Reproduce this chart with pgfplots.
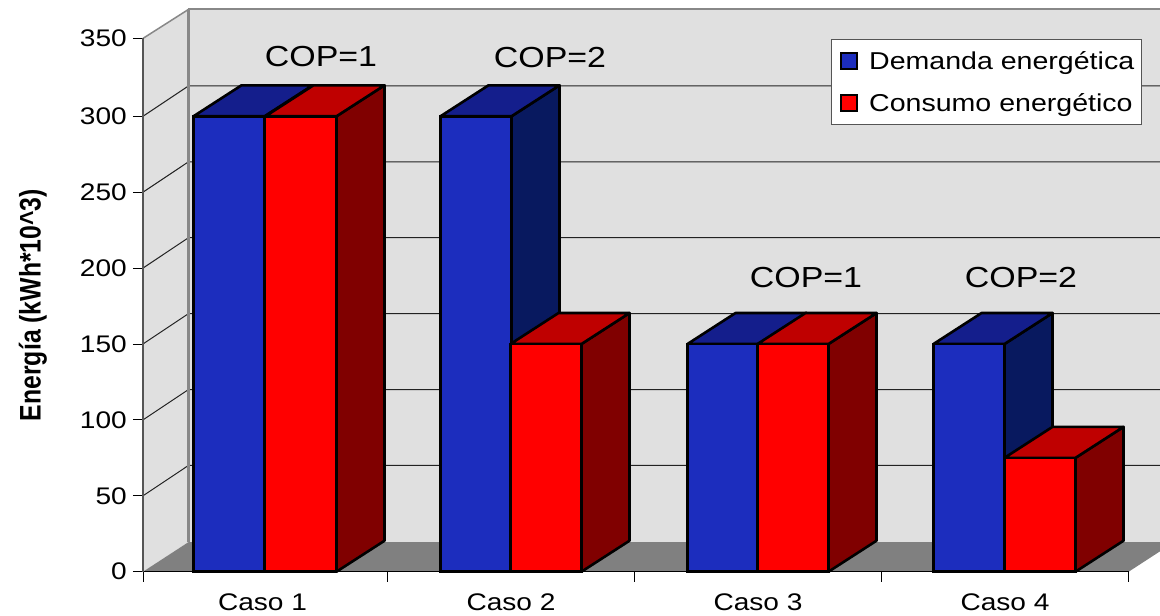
\documentclass[border=0pt]{standalone}
\usepackage{fontspec}
\setmainfont[FakeStretch=1.17]{Liberation Sans}
\newfontfamily\ylabfont{Liberation Sans}
\usepackage{pgfplots}
\pgfplotsset{compat=1.18}
\definecolor{wall}{HTML}{E0E0E0}
\definecolor{flr}{HTML}{808080}
\definecolor{wedge}{HTML}{888888}
\definecolor{axisgray}{HTML}{555555}
\definecolor{gridc}{HTML}{222222}
\definecolor{bluef}{HTML}{1C2DBE}
\definecolor{bluet}{HTML}{141E8C}
\definecolor{blues}{HTML}{08195F}
\definecolor{redf}{HTML}{FF0000}
\definecolor{redt}{HTML}{BF0000}
\definecolor{reds}{HTML}{800000}
\newcommand{\face}[2]{\addplot[draw=black,line width=2.6pt,line join=round,fill=#1,forget plot] coordinates {#2} -- cycle;}
\newcommand{\gridl}[1]{\addplot[draw=gridc,line width=1pt,forget plot] coordinates {#1};}
\begin{document}
\begin{tikzpicture}[x=1pt,y=1pt]
\useasboundingbox (-143pt,-44.3pt) rectangle (1017pt,571.7pt);
\clip (-143pt,-44.3pt) rectangle (1017pt,571.7pt);
\begin{axis}[
  scale only axis, width=985.7pt, height=533.3pt,
  xmin=0, xmax=985.7, ymin=0, ymax=351.3,
  clip=false, axis on top,
  axis lines=left,
  axis line style={-},
  x axis line style={black,line width=1.2pt},
  y axis line style={axisgray,line width=1.2pt},
  tick align=outside,
  major tick length=10pt, minor tick length=10pt,
  xtick={119.5,368,615,862},
  xticklabels={Caso 1,Caso 2,Caso 3,Caso 4},
  minor xtick={0,244.5,491.5,738.5,985.7},
  major x tick style={draw=none},
  minor x tick style={draw=black,line width=0.9pt},
  ytick={0,50,100,150,200,250,300,351.3},
  yticklabels={0,50,100,150,200,250,300,350},
  y tick style={draw=black,line width=0.9pt},
  xticklabel style={font=\fontsize{24}{26}\selectfont,inner sep=0pt,yshift=-12pt},
  yticklabel style={font=\fontsize{24}{26}\selectfont,inner sep=0pt,xshift=-6pt},
  every axis y label/.style={at={(axis description cs:-0.1116,0.5)},rotate=90,anchor=center},
  ylabel={\scalebox{1}[1.2]{\ylabfont\bfseries Energía (kWh*10\textasciicircum 3)}},
  ylabel style={font=\fontsize{24.8}{26}\selectfont},
  legend style={at={(axis cs:688,350.9)},anchor=north west,draw=axisgray,line width=1.2pt,fill=white,
    font=\fontsize{24.4}{26}\selectfont,inner xsep=5pt,inner ysep=10pt,row sep=18pt,cells={anchor=west}},
  legend cell align=left,
  legend image code/.code={\draw[#1,line width=1.8pt] (3pt,-8pt) rectangle (19pt,8pt);\path (0pt,0pt) (28pt,0pt);},
]
% walls and floor
\addplot[draw=none,fill=wall,forget plot] coordinates {(0,0)(0,351.3)(45.5,370.4)(45.5,19.5)} -- cycle;
\addplot[draw=none,fill=wall,forget plot] coordinates {(45.5,19.5)(45.5,370.4)(1040,370.4)(1040,19.5)} -- cycle;
\addplot[draw=none,fill=flr,forget plot] coordinates {(0,0)(45.5,19.5)(1040,19.5)(1031.2,19.5)(985.7,0)} -- cycle;
% gridlines on side and back wall
\gridl{(0,50)(45.5,70)(1040,70)}
\gridl{(0,100)(45.5,120)(1040,120)}
\gridl{(0,150)(45.5,170)(1040,170)}
\gridl{(0,200)(45.5,220)(1040,220)}
\gridl{(0,250)(45.5,270)(1040,270)}
\gridl{(0,300)(45.5,320)(1040,320)}
% wall edges
\addplot[draw=wedge,line width=1.5pt,forget plot] coordinates {(0,351.3)(45.5,370.4)};
\addplot[draw=wedge,line width=2pt,forget plot] coordinates {(45.5,370.4)(1040,370.4)};
\addplot[draw=wedge,line width=2.5pt,forget plot] coordinates {(45.5,370.4)(45.5,19.5)};
% blue bars: side and top
\face{blues}{(121.5,0)(121.5,300)(169.5,320.4)(169.5,20.4)}
\face{bluet}{(50.5,300)(121.5,300)(169.5,320.4)(98.5,320.4)}
\face{blues}{(368.5,0)(368.5,300)(416.5,320.4)(416.5,20.4)}
\face{bluet}{(297.5,300)(368.5,300)(416.5,320.4)(345.5,320.4)}
\face{blues}{(615.5,0)(615.5,150)(663.5,170.4)(663.5,20.4)}
\face{bluet}{(544.5,150)(615.5,150)(663.5,170.4)(592.5,170.4)}
\face{blues}{(861.5,0)(861.5,150)(909.5,170.4)(909.5,20.4)}
\face{bluet}{(790.5,150)(861.5,150)(909.5,170.4)(838.5,170.4)}
% blue front
\addplot[ybar,bar width=71,bar shift=0pt,draw=black,line width=2.6pt,fill=bluef]
  coordinates {(86,300)(333,300)(580,150)(826,150)};
\addlegendentry{Demanda energética\hspace{3pt}}
% red bars: side and top
\face{reds}{(193.5,0)(193.5,300)(241.5,320.4)(241.5,20.4)}
\face{redt}{(122.5,300)(193.5,300)(241.5,320.4)(170.5,320.4)}
\face{reds}{(438.5,0)(438.5,150)(486.5,170.4)(486.5,20.4)}
\face{redt}{(367.5,150)(438.5,150)(486.5,170.4)(415.5,170.4)}
\face{reds}{(685.5,0)(685.5,150)(733.5,170.4)(733.5,20.4)}
\face{redt}{(614.5,150)(685.5,150)(733.5,170.4)(662.5,170.4)}
\face{reds}{(932.5,0)(932.5,75)(980.5,95.4)(980.5,20.4)}
\face{redt}{(861.5,75)(932.5,75)(980.5,95.4)(909.5,95.4)}
% red front
\addplot[ybar,bar width=71,bar shift=0pt,draw=black,line width=2.6pt,fill=redf]
  coordinates {(157.5,300)(403,150)(650,150)(897,75)};
\addlegendentry{Consumo energético\hspace{3pt}}
\node[font=\fontsize{29}{31}\selectfont] at (axis cs:178,339.5) {COP=1};
\node[font=\fontsize{29}{31}\selectfont] at (axis cs:407,338.5) {COP=2};
\node[font=\fontsize{29}{31}\selectfont] at (axis cs:663,194) {COP=1};
\node[font=\fontsize{29}{31}\selectfont] at (axis cs:878,194) {COP=2};
\end{axis}
\end{tikzpicture}
\end{document}
